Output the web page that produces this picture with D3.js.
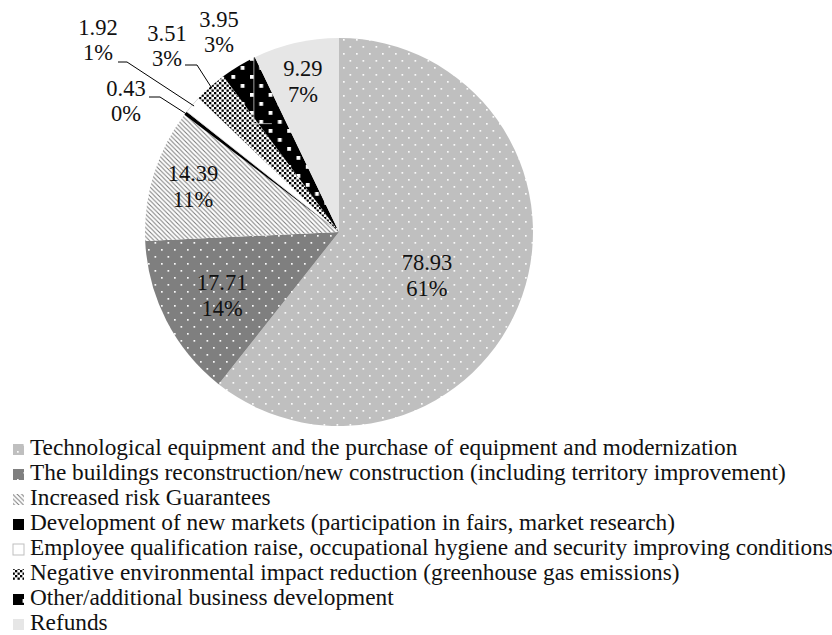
<!DOCTYPE html>
<html>
<head>
<meta charset="utf-8">
<script src="https://cdn.jsdelivr.net/npm/d3@7"></script>
<style>
  html, body { margin: 0; padding: 0; background: #fff; }
  svg { display: block; }
</style>
</head>
<body>
<svg id="chart" width="832" height="635"></svg>
<script>
// ---------- DATA ----------
const categories = [
  "Technological equipment and the purchase of equipment and modernization",
  "The buildings reconstruction/new construction (including territory improvement)",
  "Increased risk Guarantees",
  "Development of new markets (participation in fairs, market research)",
  "Employee qualification raise, occupational hygiene and security improving conditions",
  "Negative environmental impact reduction (greenhouse gas emissions)",
  "Other/additional business development",
  "Refunds"
];
const values = [78.93, 17.71, 14.39, 0.43, 1.92, 3.51, 3.95, 9.29];

// ---------- LAYOUT / STYLE ----------
const W = 832, H = 635;
const cx = 339, cy = 232, R = 194;
const labelFont = 22.5, legendFont = 23.3;
const FONT = "'Liberation Serif', 'Times New Roman', 'DejaVu Serif', serif";
const fills = ["url(#pTech)", "url(#pBuild)", "url(#pRisk)", "#000000",
               "#ffffff", "url(#pNeg)", "url(#pOther)", "#e6e6e6"];
// inside labels: fraction of radius and angular offset (deg) from the slice mid-angle
const insideLabel = {
  0: {r: 0.508, da: 7.6},
  1: {r: 0.686, da: -1.4},
  2: {r: 0.787, da: -0.25},
  7: {r: 0.797, da: -0.65}
};
const outsideLabel = {
  3: {x: 126, y: 96, attachX: 149, attachY: 97, elbowX: 160},
  4: {x: 98,  y: 35, attachX: 118, attachY: 62, elbowX: 127},
  5: {x: 167, y: 41, attachX: 185, attachY: 65, elbowX: 197},
  6: {x: 219, y: 27}
};
const lineGap = 26;

const svg = d3.select("#chart");
const defs = svg.append("defs");

function dotPattern(id, bg) {
  const p = defs.append("pattern").attr("id", id)
    .attr("patternUnits", "userSpaceOnUse").attr("width", 13).attr("height", 14)
    .attr("x", 2).attr("y", 1);
  p.append("rect").attr("width", 13).attr("height", 14).attr("fill", bg);
  p.append("rect").attr("x", 2).attr("y", 2).attr("width", 1.7).attr("height", 1.7).attr("fill", "#fafafa");
  p.append("rect").attr("x", 8.5).attr("y", 9).attr("width", 1.7).attr("height", 1.7).attr("fill", "#fafafa");
}
dotPattern("pTech", "#bfbfbf");
dotPattern("pBuild", "#7f7f7f");

(function () {
  const p = defs.append("pattern").attr("id", "pRisk")
    .attr("patternUnits", "userSpaceOnUse").attr("width", 4.5).attr("height", 4.5);
  p.append("rect").attr("width", 4.5).attr("height", 4.5).attr("fill", "#fff");
  p.append("path").attr("d", "M-1,-1 L5.5,5.5 M-1,3.5 L1,5.5 M3.5,-1 L5.5,1")
    .attr("stroke", "#7a7a7a").attr("stroke-width", 1);
})();
(function () {
  const p = defs.append("pattern").attr("id", "pNeg")
    .attr("patternUnits", "userSpaceOnUse").attr("width", 5).attr("height", 5);
  p.append("rect").attr("width", 5).attr("height", 5).attr("fill", "#fff");
  p.append("rect").attr("x", 0).attr("y", 0).attr("width", 2.3).attr("height", 2.3).attr("fill", "#000");
  p.append("rect").attr("x", 2.5).attr("y", 2.5).attr("width", 2.3).attr("height", 2.3).attr("fill", "#000");
})();
(function () {
  const p = defs.append("pattern").attr("id", "pOther")
    .attr("patternUnits", "userSpaceOnUse").attr("width", 18.6).attr("height", 18)
    .attr("x", 4).attr("y", 5);
  p.append("rect").attr("width", 18.6).attr("height", 18).attr("fill", "#000");
  p.append("rect").attr("x", 0).attr("y", 0).attr("width", 3.8).attr("height", 3.8).attr("fill", "#fff");
  p.append("rect").attr("x", 9.3).attr("y", 9).attr("width", 3.8).attr("height", 3.8).attr("fill", "#fff");
})();

// ---------- PIE ----------
const total = d3.sum(values);
const pct = d3.format(".0%");
const pie = d3.pie().sort(null).value(d => d)(values);
const arc = d3.arc().innerRadius(0).outerRadius(R);

const g = svg.append("g").attr("transform", `translate(${cx},${cy})`);
g.selectAll("path.slice").data(pie).join("path")
  .attr("class", "slice")
  .attr("d", arc)
  .attr("fill", (d, i) => fills[i])
  .attr("stroke", (d, i) => i === 4 ? "#cfcfcf" : "none")
  .attr("stroke-width", 0.8);

// light leader line of the "Other" label (visible over the black slice)
(function () {
  const d = pie[6];
  const p = d3.pointRadial(d.endAngle, R);
  const x0 = cx + p[0] - 1, y0 = cy + p[1];
  const inner = d3.pointRadial(d.endAngle, R * 0.62);
  const y1 = cy + inner[1];
  svg.append("path")
    .attr("d", `M${x0},${y0} L${x0},${y1} L${x0 + 18},${y1}`)
    .attr("fill", "none").attr("stroke", "#c8c8c8").attr("stroke-width", 0.8);
})();

function addText(x, y, s, size, anchor) {
  return svg.append("text").attr("x", x).attr("y", y)
    .attr("text-anchor", anchor || "middle")
    .attr("font-family", FONT).attr("font-size", size)
    .attr("fill", "#111").text(s);
}

// ---------- LABELS ----------
pie.forEach((d, i) => {
  const valueText = d3.format(".2f")(values[i]);
  const pctText = pct(values[i] / total);
  if (insideLabel[i] !== undefined) {
    const L = insideLabel[i];
    const mid = (d.startAngle + d.endAngle) / 2 + L.da * Math.PI / 180;
    const p = d3.pointRadial(mid, R * L.r);
    const x = cx + p[0], yc = cy + p[1];
    const y1 = yc - lineGap / 2 + 7;
    addText(x, y1, valueText, labelFont);
    addText(x, y1 + lineGap, pctText, labelFont);
  } else {
    const o = outsideLabel[i];
    addText(o.x, o.y, valueText, labelFont);
    addText(o.x, o.y + lineGap - 1, pctText, labelFont);
    if (o.attachX !== undefined) {
      const mid = (d.startAngle + d.endAngle) / 2;
      const p = d3.pointRadial(mid, R - 2);
      svg.append("path")
        .attr("d", `M${o.attachX},${o.attachY} L${o.elbowX},${o.attachY} L${cx + p[0]},${cy + p[1]}`)
        .attr("fill", "none").attr("stroke", "#000").attr("stroke-width", 1);
    }
  }
});

// ---------- LEGEND ----------
const legendX = 13, legendY0 = 455, legendStep = 25, box = 11;
categories.forEach((c, i) => {
  const y = legendY0 + i * legendStep;
  svg.append("rect")
    .attr("x", legendX).attr("y", y - box).attr("width", box).attr("height", box)
    .attr("fill", fills[i])
    .attr("stroke", i === 4 ? "#bfbfbf" : "none").attr("stroke-width", 1);
  addText(30, y, c, legendFont, "start");
});
</script>
</body>
</html>
